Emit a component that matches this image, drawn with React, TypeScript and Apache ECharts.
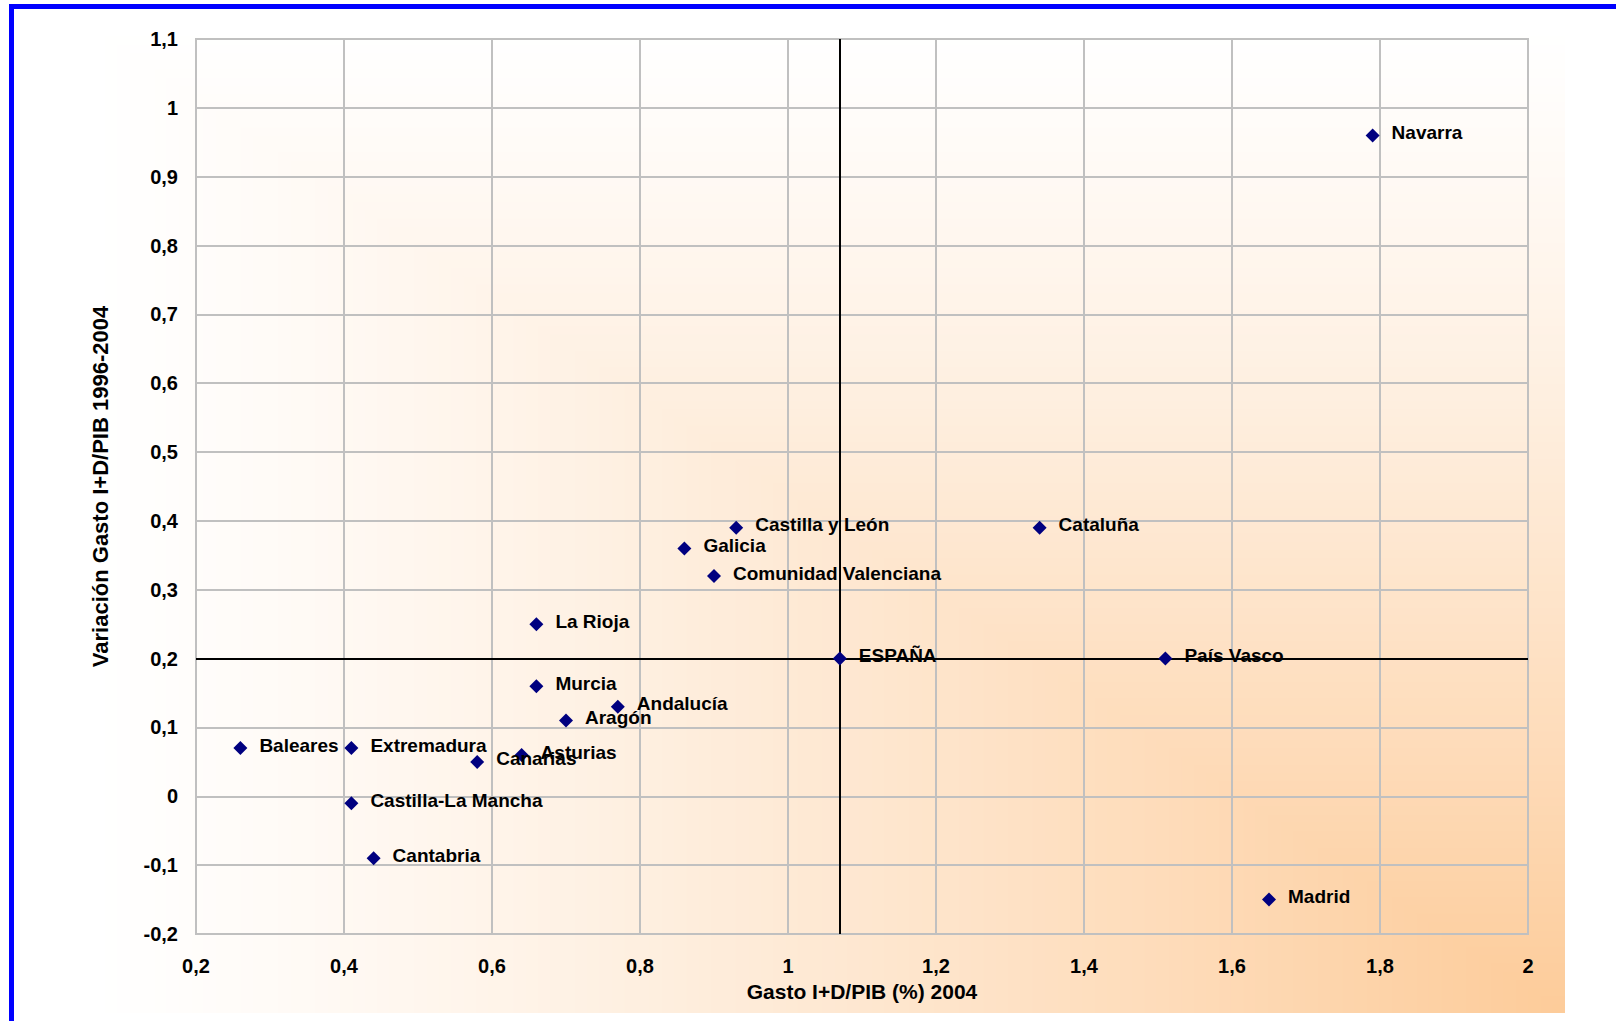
import React, { useEffect, useRef } from "react";
import * as echarts from "echarts";

const regions = [
  "Navarra",
  "Cataluña",
  "Castilla y León",
  "Galicia",
  "Comunidad Valenciana",
  "La Rioja",
  "ESPAÑA",
  "País Vasco",
  "Murcia",
  "Andalucía",
  "Aragón",
  "Baleares",
  "Extremadura",
  "Asturias",
  "Canarias",
  "Castilla-La Mancha",
  "Cantabria",
  "Madrid",
];
const gasto2004 = [1.79, 1.34, 0.93, 0.86, 0.9, 0.66, 1.07, 1.51, 0.66, 0.77, 0.7, 0.26, 0.41, 0.64, 0.58, 0.41, 0.44, 1.65];
const variacion = [0.96, 0.39, 0.39, 0.36, 0.32, 0.25, 0.2, 0.2, 0.16, 0.13, 0.11, 0.07, 0.07, 0.06, 0.05, -0.01, -0.09, -0.15];

const xAxisTitle = "Gasto I+D/PIB (%) 2004";
const yAxisTitle = "Variación Gasto I+D/PIB 1996-2004";
const referenceName = "ESPAÑA";

const FONT = "'Liberation Sans', Arial, sans-serif";

function fmt(v: number) {
  return String(Math.round(v * 10) / 10).replace(".", ",");
}

function buildBackground() {
  const x0 = 80, y0 = 20, x1 = 1565, y1 = 1013;
  const W = x1 - x0, H = y1 - y0;
  const N = 120;
  const c0 = [255, 255, 255];
  const c1 = [253, 203, 153];
  const els: any[] = [];
  for (let k = 0; k < N; k++) {
    const t = k / N;
    const tc = Math.pow(t, 1.2);
    const col = c0.map((c, i) => Math.round(c + (c1[i] - c) * tc));
    const rx = x0 + t * W;
    const ry = y0 + t * H;
    els.push({
      type: "rect",
      z: -100 + k * 0.001,
      silent: true,
      shape: { x: rx, y: ry, width: x1 - rx, height: y1 - ry },
      style: { fill: `rgb(${col[0]},${col[1]},${col[2]})` },
    });
  }
  els.push({
    type: "rect",
    z: 100,
    silent: true,
    shape: { x: 11.5, y: 6.5, width: 1700, height: 1100 },
    style: { fill: "none", stroke: "#0000FF", lineWidth: 5 },
  });
  return els;
}

export default function App() {
  const ref = useRef<HTMLDivElement>(null);
  useEffect(() => {
    if (!ref.current) return;
    const chart = echarts.init(ref.current, undefined, { renderer: "svg" });
    const refIdx = regions.indexOf(referenceName);
    const data = regions.map((n, i) => ({ name: n, value: [gasto2004[i], variacion[i]] }));
    chart.setOption({
      animation: false,
      backgroundColor: "#ffffff",
      graphic: buildBackground(),
      grid: {
        left: 196,
        top: 39,
        right: 88,
        bottom: 87,
        show: true,
        borderColor: "#C0C0C0",
        borderWidth: 2,
        backgroundColor: "transparent",
      },
      xAxis: {
        type: "value",
        min: 0.2,
        max: 2,
        interval: 0.2,
        name: xAxisTitle,
        nameLocation: "middle",
        nameGap: 47,
        nameTextStyle: { fontFamily: FONT, fontWeight: "bold", fontSize: 21, color: "#000" },
        axisLine: { show: false },
        axisTick: { show: false },
        axisLabel: {
          formatter: fmt,
          fontFamily: FONT,
          fontWeight: "bold",
          fontSize: 20,
          color: "#000",
          margin: 22,
        },
        splitLine: { show: true, lineStyle: { color: "#C0C0C0", width: 2 } },
      },
      yAxis: {
        type: "value",
        min: -0.2,
        max: 1.1,
        interval: 0.1,
        name: yAxisTitle,
        nameLocation: "middle",
        nameGap: 85,
        nameTextStyle: { fontFamily: FONT, fontWeight: "bold", fontSize: 22, color: "#000" },
        axisLine: { show: false },
        axisTick: { show: false },
        axisLabel: {
          formatter: fmt,
          fontFamily: FONT,
          fontWeight: "bold",
          fontSize: 20,
          color: "#000",
          margin: 18,
        },
        splitLine: { show: true, lineStyle: { color: "#C0C0C0", width: 2 } },
      },
      series: [
        {
          type: "scatter",
          data: [],
          z: 1,
          markLine: {
            silent: true,
            symbol: "none",
            label: { show: false },
            lineStyle: { color: "#000", width: 2, type: "solid" },
            data: [{ xAxis: gasto2004[refIdx] }, { yAxis: variacion[refIdx] }],
          },
        },
        {
          type: "scatter",
          z: 5,
          symbol: "diamond",
          symbolSize: 14,
          itemStyle: { color: "#000080", opacity: 1 },
          data,
          label: {
            show: true,
            position: "right",
            distance: 12,
            offset: [0, -3],
            formatter: (p: any) => p.name,
            fontFamily: FONT,
            fontWeight: "bold",
            fontSize: 19,
            color: "#000",
          },
        },
      ],
    });
    return () => chart.dispose();
  }, []);
  return (
    <div
      ref={ref}
      style={{ position: "absolute", left: 0, top: 0, width: 1616, height: 1021 }}
    />
  );
}
